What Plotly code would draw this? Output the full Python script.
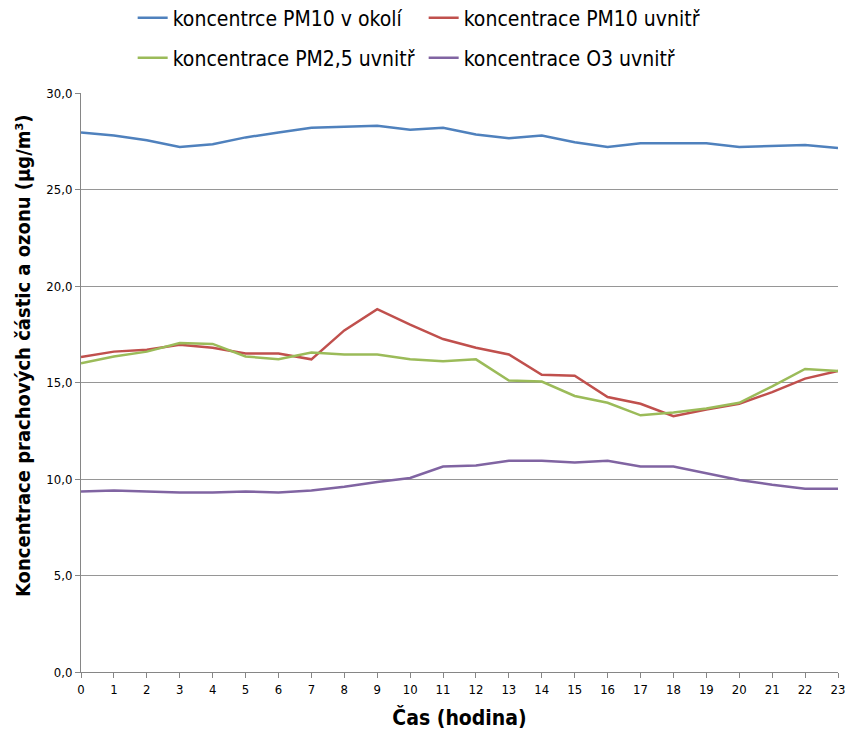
import plotly.graph_objects as go

hours = list(range(24))
series_names = ["koncentrce PM10 v okolí", "koncentrace PM10 uvnitř",
                "koncentrace PM2,5 uvnitř", "koncentrace O3 uvnitř"]
pm10_out = [27.95, 27.8, 27.55, 27.2, 27.35, 27.7, 27.95, 28.2, 28.25, 28.3, 28.1, 28.2,
            27.85, 27.65, 27.8, 27.45, 27.2, 27.4, 27.4, 27.4, 27.2, 27.25, 27.3, 27.15]
pm10_in = [16.32, 16.6, 16.7, 16.95, 16.8, 16.5, 16.5, 16.2, 17.7, 18.8, 18.0, 17.25,
           16.8, 16.45, 15.4, 15.35, 14.25, 13.9, 13.25, 13.6, 13.9, 14.5, 15.2, 15.6]
pm25_in = [16.0, 16.35, 16.6, 17.05, 17.0, 16.35, 16.2, 16.55, 16.45, 16.45, 16.2, 16.1,
           16.2, 15.1, 15.05, 14.3, 13.95, 13.3, 13.45, 13.65, 13.95, 14.8, 15.7, 15.6]
o3_in = [9.35, 9.4, 9.35, 9.3, 9.3, 9.35, 9.3, 9.4, 9.6, 9.85, 10.05, 10.65,
         10.7, 10.95, 10.95, 10.85, 10.95, 10.65, 10.65, 10.3, 9.95, 9.7, 9.5, 9.5]
y_ticks = [0, 5, 10, 15, 20, 25, 30]
colors = ["#4F81BD", "#C0504D", "#9BBB59", "#8064A2"]
legend_ids = ["legend", "legend", "legend2", "legend2"]
y_title = "<b>Koncentrace prachových částic a ozonu (µg/m³)</b>"
x_title = "<b>Čas (hodina)</b>"

FONT = "Liberation Sans Narrow, DejaVu Sans Condensed, Arial Narrow, sans-serif"

fig = go.Figure()
for name, vals, col, lg in zip(series_names, [pm10_out, pm10_in, pm25_in, o3_in],
                               colors, legend_ids):
    fig.add_trace(go.Scatter(x=hours, y=vals, name=name, mode="lines", legend=lg,
                             line=dict(color=col, width=2.5)))

legend_common = dict(orientation="h", x=0.157, xanchor="left", yanchor="middle",
                     yref="container", xref="container", entrywidth=246,
                     entrywidthmode="pixels", font=dict(size=21, family=FONT),
                     itemwidth=30, bgcolor="rgba(0,0,0,0)")

fig.update_layout(
    width=845, height=736,
    margin=dict(l=81, r=7, t=93, b=64, autoexpand=False),
    paper_bgcolor="white", plot_bgcolor="white",
    separators=", ",
    font=dict(family=FONT, color="#000000"),
    showlegend=True,
    legend=dict(legend_common, y=1 - 18 / 736),
    legend2=dict(legend_common, y=1 - 58 / 736),
    xaxis=dict(range=[0, 23], tickmode="array", tickvals=hours, ticks="outside",
               ticklen=5, tickcolor="#868686", showline=True, linecolor="#868686",
               linewidth=1, showgrid=False, zeroline=False, automargin=False,
               ticklabeloverflow="allow",
               tickfont=dict(size=13, family=FONT, color="#000000"),
               title=dict(text=x_title, font=dict(size=21, family=FONT),
                          standoff=14)),
    yaxis=dict(range=[0, 30], tickmode="array", tickvals=y_ticks, tickformat=".1f",
               ticks="outside", ticklen=5, tickcolor="#868686", showline=True,
               linecolor="#868686", linewidth=1, showgrid=True, gridcolor="#969696",
               gridwidth=1, zeroline=False, automargin=False,
               tickfont=dict(size=13, family=FONT, color="#000000")),
    annotations=[dict(text=y_title, textangle=-90, xref="paper", yref="paper",
                      x=-(81 - 23) / 757, y=(672 - 356) / 579, xanchor="center",
                      yanchor="middle", showarrow=False,
                      font=dict(size=20, family=FONT, color="#000000"))],
)

fig.write_html("out.html", config={"displayModeBar": False},
               post_script="document.body.style.margin='0';document.body.style.padding='0';")
